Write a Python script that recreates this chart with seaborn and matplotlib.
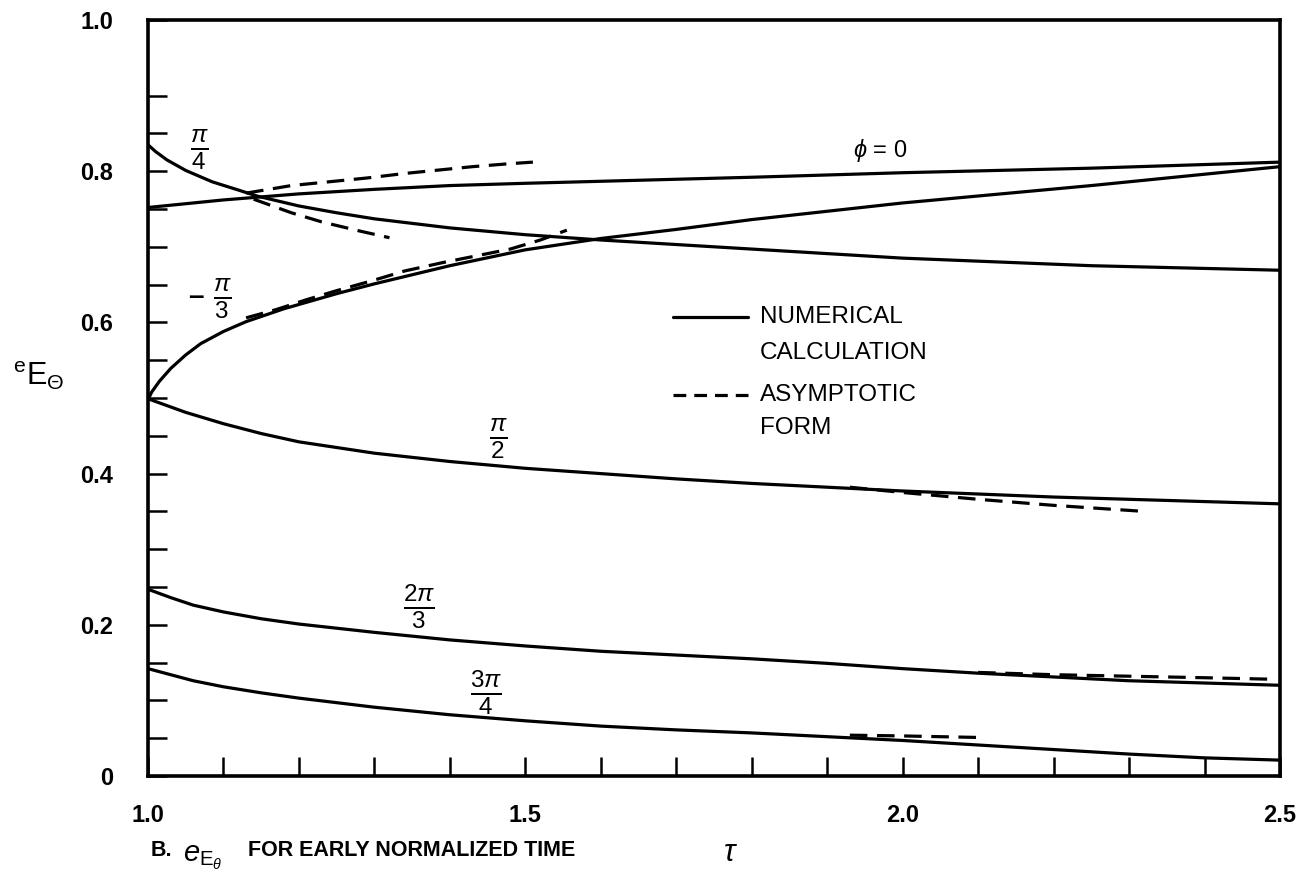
import matplotlib
matplotlib.use("Agg")
import matplotlib.pyplot as plt
import seaborn as sns
import pandas as pd
from matplotlib.ticker import FixedLocator, FixedFormatter

# ---- data ----
tau_phi0 = [1.0, 1.05, 1.1, 1.15, 1.2, 1.3, 1.4, 1.5, 1.65, 1.8, 2.0, 2.25, 2.5]
e_phi0 = [0.752, 0.757, 0.762, 0.766, 0.770, 0.776, 0.781, 0.784, 0.788, 0.792, 0.798, 0.804, 0.812]

tau_pi4 = [1.0, 1.01, 1.025, 1.05, 1.085, 1.12, 1.145, 1.2, 1.25, 1.3, 1.4, 1.5, 1.6, 1.7, 1.8, 2.0, 2.25, 2.5]
e_pi4 = [0.835, 0.826, 0.815, 0.801, 0.786, 0.775, 0.767, 0.754, 0.745, 0.737, 0.725, 0.716, 0.709, 0.703, 0.697, 0.685, 0.675, 0.669]

tau_mpi3 = [1.0, 1.005, 1.015, 1.03, 1.05, 1.07, 1.1, 1.13, 1.18, 1.25, 1.3, 1.4, 1.5, 1.6, 1.7, 1.8, 2.0, 2.25, 2.5]
e_mpi3 = [0.498, 0.508, 0.522, 0.539, 0.557, 0.572, 0.588, 0.601, 0.618, 0.638, 0.651, 0.675, 0.696, 0.711, 0.723, 0.736, 0.758, 0.781, 0.806]

tau_pi2 = [1.0, 1.05, 1.1, 1.15, 1.2, 1.3, 1.4, 1.5, 1.6, 1.7, 1.8, 1.9, 2.0, 2.1, 2.2, 2.3, 2.4, 2.5]
e_pi2 = [0.499, 0.481, 0.466, 0.453, 0.442, 0.427, 0.416, 0.407, 0.400, 0.393, 0.387, 0.382, 0.377, 0.373, 0.369, 0.366, 0.363, 0.360]

tau_2pi3 = [1.0, 1.03, 1.06, 1.1, 1.15, 1.2, 1.3, 1.4, 1.5, 1.6, 1.7, 1.8, 1.9, 2.0, 2.1, 2.2, 2.3, 2.4, 2.5]
e_2pi3 = [0.247, 0.236, 0.226, 0.217, 0.208, 0.201, 0.190, 0.180, 0.172, 0.165, 0.160, 0.155, 0.149, 0.142, 0.136, 0.131, 0.126, 0.123, 0.120]

tau_3pi4 = [1.0, 1.03, 1.06, 1.1, 1.15, 1.2, 1.3, 1.4, 1.5, 1.6, 1.7, 1.8, 1.9, 2.0, 2.1, 2.2, 2.3, 2.4, 2.5]
e_3pi4 = [0.142, 0.134, 0.126, 0.118, 0.110, 0.103, 0.091, 0.081, 0.073, 0.066, 0.061, 0.057, 0.052, 0.047, 0.041, 0.035, 0.029, 0.024, 0.021]

# asymptotic forms (dashed)
tau_a_phi0 = [1.13, 1.19, 1.24, 1.29, 1.34, 1.39, 1.43, 1.48, 1.51]
e_a_phi0 = [0.771, 0.781, 0.786, 0.791, 0.797, 0.802, 0.806, 0.810, 0.812]
tau_a_pi4 = [1.14, 1.19, 1.23, 1.28, 1.32]
e_a_pi4 = [0.763, 0.745, 0.733, 0.721, 0.712]
tau_a_mpi3 = [1.13, 1.17, 1.21, 1.25, 1.3, 1.34, 1.39, 1.43, 1.48, 1.52, 1.555]
e_a_mpi3 = [0.606, 0.617, 0.630, 0.642, 0.656, 0.668, 0.679, 0.687, 0.697, 0.709, 0.722]
tau_a_pi2 = [1.93, 2.0, 2.1, 2.2, 2.32]
e_a_pi2 = [0.382, 0.375, 0.366, 0.358, 0.350]
tau_a_2pi3 = [2.10, 2.2, 2.3, 2.4, 2.49]
e_a_2pi3 = [0.137, 0.134, 0.132, 0.130, 0.128]
tau_a_3pi4 = [1.93, 2.0, 2.1]
e_a_3pi4 = [0.054, 0.053, 0.051]

# tick positions and labels ("" = tick mark without label)
x_ticks = [1.0, 1.1, 1.2, 1.3, 1.4, 1.5, 1.6, 1.7, 1.8, 1.9, 2.0, 2.1, 2.2, 2.3, 2.4, 2.5]
x_tick_labels = ["1.0", "", "", "", "", "1.5", "", "", "", "", "2.0", "", "", "", "", "2.5"]
y_ticks = [0.0, 0.05, 0.1, 0.15, 0.2, 0.25, 0.3, 0.35, 0.4, 0.45, 0.5,
           0.55, 0.6, 0.65, 0.7, 0.75, 0.8, 0.85, 0.9, 1.0]
y_tick_labels = ["0", "", "", "", "0.2", "", "", "", "0.4", "", "",
                 "", "0.6", "", "", "", "0.8", "", "", "1.0"]

# ---- figure ----
sns.set_theme(style="ticks")
plt.rcParams["font.family"] = ["Liberation Sans", "DejaVu Sans"]
plt.rcParams["mathtext.fontset"] = "custom"
plt.rcParams["mathtext.rm"] = "Liberation Sans"
plt.rcParams["mathtext.it"] = "Liberation Sans:italic"
plt.rcParams["mathtext.bf"] = "Liberation Sans:bold"
plt.rcParams["text.color"] = "black"
plt.rcParams["axes.labelcolor"] = "black"
plt.rcParams["xtick.color"] = "black"
plt.rcParams["ytick.color"] = "black"

fig = plt.figure(figsize=(13.03, 8.86), dpi=100)
ax = fig.add_axes([148 / 1303, 1 - 776 / 886, (1280 - 148) / 1303, (776 - 20) / 886])

LW = 2.3
solid = [(tau_phi0, e_phi0), (tau_pi4, e_pi4), (tau_mpi3, e_mpi3),
         (tau_pi2, e_pi2), (tau_2pi3, e_2pi3), (tau_3pi4, e_3pi4)]
dashed = [(tau_a_phi0, e_a_phi0), (tau_a_pi4, e_a_pi4), (tau_a_mpi3, e_a_mpi3),
          (tau_a_pi2, e_a_pi2), (tau_a_2pi3, e_a_2pi3), (tau_a_3pi4, e_a_3pi4)]

for t, e in solid:
    df = pd.DataFrame({"tau": t, "e": e})
    sns.lineplot(data=df, x="tau", y="e", ax=ax, color="black", lw=LW,
                 sort=False, estimator=None)
for t, e in dashed:
    df = pd.DataFrame({"tau": t, "e": e})
    l = sns.lineplot(data=df, x="tau", y="e", ax=ax, color="black", lw=LW,
                     sort=False, estimator=None)
    l.lines[-1].set_dashes((5.5, 3))
for ln in ax.lines:
    ln.set_solid_joinstyle("round")
    ln.set_dash_joinstyle("round")

ax.set_xlim(1.0, 2.5)
ax.set_ylim(0.0, 1.0)

ax.xaxis.set_major_locator(FixedLocator(x_ticks))
ax.xaxis.set_major_formatter(FixedFormatter(x_tick_labels))
ax.yaxis.set_major_locator(FixedLocator(y_ticks))
ax.yaxis.set_major_formatter(FixedFormatter(y_tick_labels))
ax.minorticks_off()
ax.tick_params(which="major", direction="in", length=14, width=1.8, color="black",
               bottom=True, left=True, top=False, right=False)
ax.tick_params(axis="x", which="major", pad=20, labelsize=17)
ax.tick_params(axis="y", which="major", pad=25, labelsize=17)
for lab in ax.get_xticklabels() + ax.get_yticklabels():
    lab.set_fontweight("bold")
for s in ax.spines.values():
    s.set_visible(True)
    s.set_linewidth(2.6)
    s.set_color("black")
ax.set_xlabel("")
ax.set_ylabel("")

# curve labels
fs = 25
ax.text(1.068, 0.829, r"$\frac{\pi}{4}$", fontsize=fs, ha="center", va="center")
ax.text(1.064, 0.634, "–", fontsize=20, ha="center", va="center", fontweight="bold")
ax.text(1.098, 0.632, r"$\frac{\pi}{3}$", fontsize=fs, ha="center", va="center")
ax.text(1.464, 0.447, r"$\frac{\pi}{2}$", fontsize=fs, ha="center", va="center")
ax.text(1.359, 0.224, r"$\frac{2\pi}{3}$", fontsize=fs, ha="center", va="center")
ax.text(1.448, 0.111, r"$\frac{3\pi}{4}$", fontsize=fs, ha="center", va="center")
ax.text(1.97, 0.828, r"$\phi$ = 0", fontsize=17, ha="center", va="center")

# legend drawn inside plot
ax.plot([1.696, 1.795], [0.607, 0.607], color="black", lw=LW)
ax.plot([1.696, 1.795], [0.504, 0.504], color="black", lw=LW, dashes=(4, 2.5))
lfs = 17.5
ax.text(1.811, 0.607, "NUMERICAL", fontsize=lfs, va="center", ha="left")
ax.text(1.811, 0.560, "CALCULATION", fontsize=lfs, va="center", ha="left")
ax.text(1.811, 0.504, "ASYMPTOTIC", fontsize=lfs, va="center", ha="left")
ax.text(1.811, 0.460, "FORM", fontsize=lfs, va="center", ha="left")

# axis labels
fig.text(13 / 1303, 1 - 376 / 886, r"$^{\mathrm{e}}\mathrm{E}_{\Theta}$", fontsize=22,
         ha="left", va="center")
fig.text(730 / 1303, 1 - 853 / 886, r"$\tau$", fontsize=22, ha="center", va="center")
fig.text(151 / 1303, 1 - 851 / 886, "B.", fontsize=15.5, fontweight="bold", ha="left", va="center")
fig.text(183 / 1303, 1 - 858 / 886, r"$e_{\mathrm{E}_{\theta}}$", fontsize=21,
         ha="left", va="center")
fig.text(248 / 1303, 1 - 851 / 886, "FOR EARLY NORMALIZED TIME", fontsize=15.5,
         fontweight="bold", ha="left", va="center")

fig.savefig("out.png", dpi=100, facecolor="white")
